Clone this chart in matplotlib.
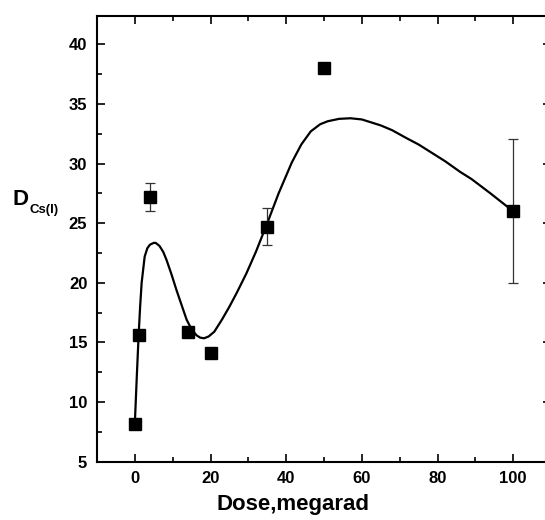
import matplotlib

matplotlib.use("Agg")
import matplotlib.pyplot as plt

# measured points (dose in megarad, D_Cs(I))
dose = [0, 1, 4, 14, 20, 35, 50, 100]
d_cs = [8.2, 15.6, 27.2, 15.9, 14.1, 24.7, 38.0, 26.0]
d_err = [0, 0, 1.2, 0.3, 0, 1.57, 0, 6.05]

# smooth guide line
curve_x = [0, 0.5, 1, 1.4, 1.8, 2.6, 3.3, 4, 5, 5.5, 6.5, 7.5, 8.4, 9.7, 11, 12.4,
           13.7, 15, 16.3, 17.3, 18.3, 19.5, 21, 23, 25, 27, 29.5, 32, 35, 38,
           41.5, 44, 46.5, 49, 51, 54, 57, 60, 62, 65, 68, 72, 75, 79, 82, 86,
           89, 94, 100]
curve_y = [8.2, 12.0, 15.6, 18.0, 20.0, 22.2, 22.9, 23.2, 23.35, 23.35, 23.1, 22.6,
           21.9, 20.7, 19.4, 18.1, 16.9, 16.1, 15.6, 15.4, 15.35, 15.5, 15.9, 16.9,
           18.0, 19.2, 20.8, 22.6, 25.0, 27.5, 30.1, 31.6, 32.7, 33.3, 33.55,
           33.75, 33.8, 33.7, 33.5, 33.2, 32.8, 32.1, 31.6, 30.8, 30.2, 29.3,
           28.7, 27.5, 26.0]

x_ticks = [0, 20, 40, 60, 80, 100]
y_ticks = [5, 10, 15, 20, 25, 30, 35, 40]

font = "Liberation Sans"

fig = plt.figure(figsize=(5.45, 5.2), dpi=100)
# right edge of the frame falls just outside the picture, as in the original
ax = fig.add_axes([97 / 545, 58.3 / 520, 454 / 545, 446 / 520])

ax.plot(curve_x, curve_y, color="black", lw=1.6, zorder=2)
ax.errorbar(dose, d_cs, yerr=d_err, fmt="none", ecolor="#333333", elinewidth=0.9,
            capsize=3.6, capthick=0.9, zorder=3)
ax.plot(dose, d_cs, ls="none", marker="s", ms=9.2, color="black", zorder=4)

ax.set_xlim(-10, 110)
ax.set_ylim(5, 42.4)
ax.set_xticks(x_ticks)
ax.set_yticks(y_ticks)
ax.set_xticks(range(-10, 111, 10), minor=True)
ax.set_yticks([5 + 2.5 * i for i in range(15)], minor=True)

ax.tick_params(which="both", direction="in", top=True, right=True, width=1.2)
ax.tick_params(which="major", length=6, pad=7)
ax.tick_params(which="minor", length=3.5)
for s in ax.spines.values():
    s.set_linewidth(1.5)
ax.spines["right"].set_visible(False)

for lab in ax.get_xticklabels() + ax.get_yticklabels():
    lab.set_fontfamily(font)
    lab.set_fontweight("bold")
    lab.set_fontsize(12)

fig.text(293 / 545, 0.029, "Dose,megarad", family=font, weight="bold",
         fontsize=16, ha="center", va="center")
fig.text(13 / 545, 0.606, "D", family=font, weight="bold", fontsize=16,
         ha="left", va="baseline")
fig.text(30 / 545, 0.590, "Cs(I)", family=font, weight="bold", fontsize=9.5,
         ha="left", va="baseline")

fig.savefig("out.png", dpi=100)
plt.close(fig)
